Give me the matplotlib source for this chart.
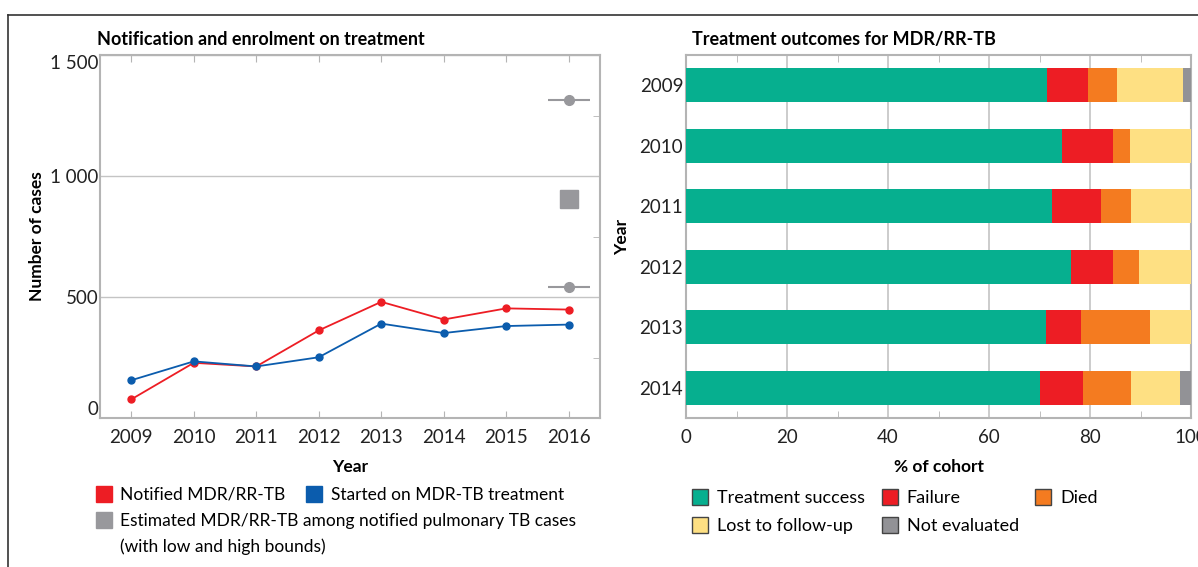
import matplotlib.pyplot as plt
from matplotlib.patches import Patch
from matplotlib.lines import Line2D
from matplotlib.ticker import FixedLocator

plt.rcParams['font.family'] = ['Lato', 'DejaVu Sans']

# left panel data
years = [2009, 2010, 2011, 2012, 2013, 2014, 2015, 2016]
notified = [77, 228, 213, 362, 480, 407, 453, 448]
started = [156, 234, 213, 251, 390, 351, 380, 386]
est_year = 2016
est_best = 905
est_low = 540
est_high = 1315
y_ticks = [0, 500, 1000, 1500]
y_tick_labels = ['0', '500', '1 000', '1 500']

# right panel data
outcome_years = ['2009', '2010', '2011', '2012', '2013', '2014']
success = [71.4, 74.5, 72.4, 76.3, 71.2, 70.0]
failure = [8.3, 10.0, 9.7, 8.2, 7.0, 8.6]
died = [5.7, 3.4, 6.1, 5.3, 13.7, 9.6]
lost = [13.1, 12.1, 11.8, 10.2, 8.1, 9.7]
not_evaluated = [1.5, 0.0, 0.0, 0.0, 0.0, 2.1]

col_red = '#ed1d24'
col_blue = '#0b5cad'
col_grey = '#98989c'
col_green = '#06af8f'
col_orange = '#f47b20'
col_yellow = '#fee083'
col_ne = '#929296'
spine_col = '#b4b4b4'

W, H = 1198, 567
fig = plt.figure(figsize=(W / 100, H / 100), dpi=100)

# outer frame lines (top and left)
fig.add_artist(Line2D([8 / W, 8 / W], [0, 1 - 15 / H], color='#333333', lw=1.2, transform=fig.transFigure))
fig.add_artist(Line2D([8 / W, 1], [1 - 15 / H, 1 - 15 / H], color='#333333', lw=1.2, transform=fig.transFigure))

# ---- left panel
ax1 = fig.add_axes([100 / W, 1 - 418 / H, 500 / W, 363 / H])
ax1.plot(years, notified, color=col_red, lw=1.3, marker='o', ms=5, zorder=3)
ax1.plot(years, started, color=col_blue, lw=1.3, marker='o', ms=5, zorder=3)
ax1.plot([est_year], [est_best], marker='s', ms=13, color=col_grey, ls='none')
for v in [est_low, est_high]:
    ax1.plot([est_year], [v], marker='_', ms=30, mew=1.5, color=col_grey, ls='none')
    ax1.plot([est_year], [v], marker='o', ms=7, color=col_grey, ls='none')

ax1.set_xlim(2008.5, 2016.5)
ax1.set_ylim(0, 1500)
ax1.set_xticks(years)
ax1.set_xticklabels([str(y) for y in years])
ax1.set_yticks(y_ticks)
ax1.set_yticklabels(y_tick_labels)
ylabs = ax1.get_yticklabels()
ylabs[0].set_va('bottom')
ylabs[-1].set_va('top')
ax1.yaxis.set_minor_locator(FixedLocator([250, 750, 1250]))
ax1.grid(axis='y', color='#c4c4c4', lw=1)
ax1.set_axisbelow(True)
ax1.tick_params(axis='x', which='major', direction='in', top=True, length=5, color=spine_col,
                labelsize=13.5, pad=8, labelcolor='#222222')
ax1.tick_params(axis='y', which='major', length=0, labelsize=13.5, pad=1, labelcolor='#222222')
ax1.tick_params(axis='y', which='minor', direction='in', right=True, left=False, length=5, color=spine_col)
for s in ax1.spines.values():
    s.set_color(spine_col)
    s.set_linewidth(1.5)
ax1.set_xlabel('Year', fontsize=12.5, fontweight='bold', labelpad=9)
ax1.set_ylabel('Number of cases', fontsize=12.5, fontweight='bold', labelpad=4)
ax1.set_title('Notification and enrolment on treatment', loc='left', fontsize=13, fontweight='bold',
              pad=7, x=-0.006)

# ---- right panel
ax2 = fig.add_axes([686 / W, 1 - 418 / H, 505 / W, 363 / H])
ypos = list(range(len(outcome_years)))
left = [0.0] * len(ypos)
for vals, c in [(success, col_green), (failure, col_red), (died, col_orange),
                (lost, col_yellow), (not_evaluated, col_ne)]:
    ax2.barh(ypos, vals, left=left, height=0.57, color=c, zorder=3)
    left = [a + b for a, b in zip(left, vals)]
ax2.set_ylim(5.5, -0.5)
ax2.set_xlim(0, 100)
ax2.set_yticks(ypos)
ax2.set_yticklabels(outcome_years)
ax2.set_xticks([0, 20, 40, 60, 80, 100])
ax2.xaxis.set_minor_locator(FixedLocator([10, 30, 50, 70, 90]))
ax2.grid(axis='x', color='#c4c4c4', lw=1.2)
ax2.set_axisbelow(True)
ax2.tick_params(axis='x', which='major', length=0, labelsize=13.5, pad=8, labelcolor='#222222')
ax2.tick_params(axis='x', which='minor', direction='in', top=True, length=5, color=spine_col)
ax2.tick_params(axis='y', length=0, labelsize=13.5, pad=2, labelcolor='#222222')
for s in ax2.spines.values():
    s.set_color(spine_col)
    s.set_linewidth(1.5)
ax2.set_xlabel('% of cohort', fontsize=12.5, fontweight='bold', labelpad=9)
ax2.set_ylabel('Year', fontsize=12.5, fontweight='bold', labelpad=7)
ax2.set_title('Treatment outcomes for MDR/RR-TB', loc='left', fontsize=13, fontweight='bold',
              pad=7, x=0.012)

# ---- legends
leg_kw = dict(frameon=False, fontsize=12.5, handlelength=0.9, handleheight=1.0,
              handletextpad=0.5, borderpad=0, borderaxespad=0)
h1 = [Patch(color=col_red), Patch(color=col_blue)]
fig.legend(h1, ['Notified MDR/RR-TB', 'Started on MDR-TB treatment'], ncol=2,
           columnspacing=1.2, loc='upper left', bbox_to_anchor=(96 / W, 1 - 486 / H), **leg_kw)
h2 = [Patch(color=col_grey), Patch(color='none')]
fig.legend(h2, ['Estimated MDR/RR-TB among notified pulmonary TB cases',
                '(with low and high bounds)'], loc='upper left', labelspacing=0.55,
           bbox_to_anchor=(96 / W, 1 - 512 / H), **leg_kw)

leg_kw3 = dict(leg_kw, fontsize=13)
h3 = [Patch(facecolor=c, edgecolor='#444444', lw=1) for c in
      [col_green, col_yellow, col_red, col_ne, col_orange]]
fig.legend(h3, ['Treatment success', 'Lost to follow-up', 'Failure', 'Not evaluated', 'Died'],
           ncol=3, columnspacing=0.9, labelspacing=0.6, loc='upper left',
           bbox_to_anchor=(692 / W, 1 - 489 / H), **leg_kw3)

fig.savefig('out.png', dpi=100)
